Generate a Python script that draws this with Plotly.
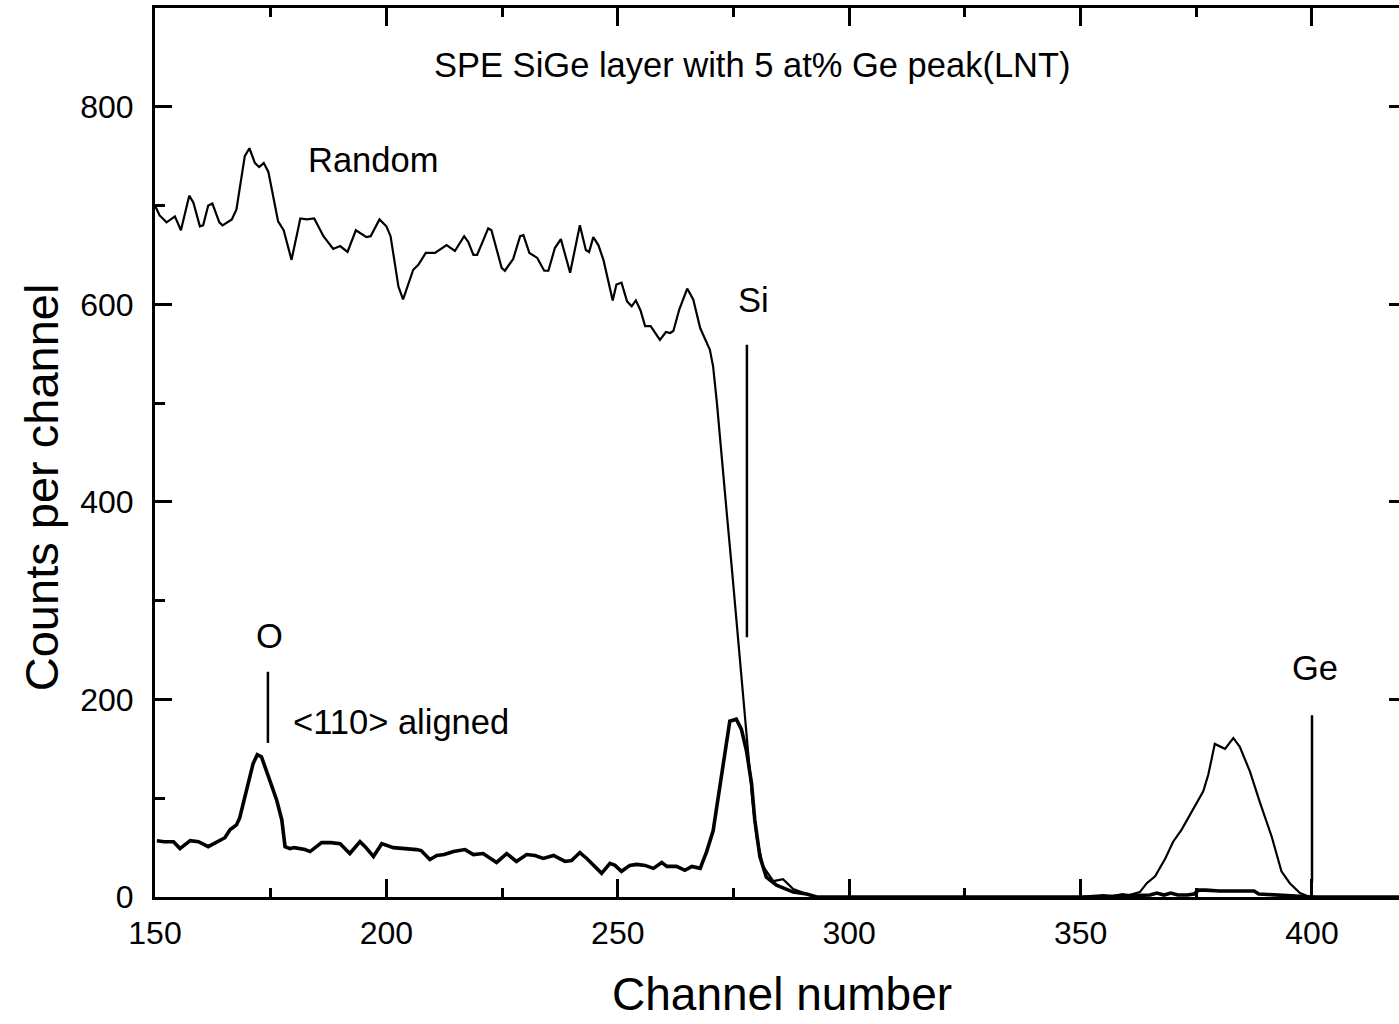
import plotly.graph_objects as go

# Random spectrum (channel, counts)
random_ch = [150.0, 151.0, 152.5, 154.3, 155.6, 157.4, 158.3, 159.7, 160.4, 161.5, 162.4, 163.9,
             164.6, 166.6, 167.6, 169.4, 170.4, 171.6, 172.5, 173.5, 174.5, 176.6, 177.8, 179.5,
             181.4, 182.8, 184.4, 186.4, 188.5, 190.0, 191.6, 193.4, 195.7, 196.6, 198.5, 200.0,
             200.9, 202.6, 203.6, 205.8, 206.9, 208.5, 210.5, 213.0, 214.8, 216.8, 217.7, 218.8,
             219.6, 220.8, 222.0, 222.7, 224.9, 225.6, 227.4, 228.9, 229.6, 230.9, 232.6, 234.1,
             235.0, 236.4, 237.7, 239.7, 241.8, 243.1, 243.8, 244.7, 245.8, 246.9, 248.9, 249.7,
             250.8, 252.0, 253.0, 253.9, 254.9, 255.9, 257.1, 259.1, 260.4, 261.3, 262.0, 263.3,
             265.0, 266.3, 267.8, 269.9, 270.6, 271.4, 272.4, 273.5, 274.6, 275.6, 276.7, 277.6,
             278.4, 279.1, 280.0, 281.4, 283.6, 285.7, 287.9, 290.8, 293.0, 320.0, 350.0,
             352.0, 355.0, 357.0, 359.0, 360.5, 362.8, 364.3, 366.1, 368.3, 370.0, 371.8, 374.3,
             376.5, 377.6, 379.0, 381.2, 383.0, 384.4, 386.6, 388.8, 391.3, 393.4, 395.2, 397.4,
             399.0, 401.0, 419.0]
random_counts = [700, 690, 683, 689, 675, 710, 703, 679, 680, 700, 702, 683,
                 680, 686, 696, 750, 758, 743, 739, 743, 734, 684, 675, 645,
                 687, 686, 687, 669, 656, 659, 653, 675, 668, 669, 686, 679,
                 669, 618, 605, 635, 640, 652, 652, 660, 654, 669, 663, 650,
                 650, 663, 677, 675, 637, 634, 646, 669, 670, 652, 647, 634,
                 634, 657, 666, 632, 680, 655, 653, 668, 660, 645, 604, 620,
                 622, 603, 598, 604, 594, 578, 578, 564, 572, 571, 573, 595,
                 616, 605, 576, 554, 537, 501, 446, 391, 335, 280, 225, 170,
                 134, 97, 60, 31, 16, 18, 8, 3, 0, 0, 0,
                 1, 2, 1, 3, 2, 5, 14, 21, 39, 56, 68, 88,
                 107, 124, 155, 150, 161, 152, 127, 95, 61, 26, 14, 4,
                 1, 0, 0]

# <110> aligned spectrum (channel, counts)
aligned_ch = [150.4, 152.0, 154.0, 155.4, 157.6, 159.4, 161.5, 163.3, 165.1, 166.2, 167.6, 168.3,
              169.8, 171.2, 172.1, 173.0, 174.8, 176.3, 177.4, 178.1, 179.2, 180.1, 182.4, 183.5,
              186.0, 188.0, 190.0, 192.1, 194.3, 195.4, 197.2, 199.0, 201.5, 204.4, 206.5, 207.5,
              209.4, 210.9, 212.5, 214.5, 217.0, 218.8, 220.9, 223.8, 226.0, 228.1, 230.3, 232.1,
              233.9, 236.1, 238.6, 240.0, 241.8, 243.3, 245.1, 246.5, 248.3, 249.4, 250.8, 252.6,
              254.1, 255.9, 257.7, 259.5, 260.6, 262.7, 264.5, 266.0, 267.8, 269.2, 270.6, 272.0,
              273.2, 274.2, 275.6, 276.7, 277.8, 278.9, 279.6, 280.7, 282.1, 284.3, 287.9, 290.8,
              293.0, 330.0, 355.0, 358.0, 362.0, 365.0, 366.5, 368.0, 369.5, 371.0, 373.0,
              374.5, 375.5, 377.0, 380.0, 384.0, 387.5, 388.5, 392.0, 396.0, 400.0, 419.0]
aligned_counts = [57, 56, 56, 49, 57, 56, 51, 56, 60, 68, 73, 80,
                  108, 135, 144, 142, 118, 98, 78, 51, 49, 50, 48, 46,
                  55, 55, 54, 44, 56, 51, 41, 54, 50, 49, 48, 47,
                  38, 42, 43, 46, 48, 43, 44, 35, 44, 36, 43, 42,
                  39, 42, 36, 37, 45, 39, 31, 24, 34, 32, 26, 32,
                  33, 32, 29, 35, 31, 31, 27, 31, 29, 46, 67, 111,
                  152, 178, 180, 170, 148, 115, 78, 41, 20, 12, 5, 3,
                  0, 0, 0, 1, 2, 2, 4, 2, 4, 2, 2,
                  3, 7, 7, 6, 6, 6, 3, 2, 1, 0, 0]

# Element surface-edge markers: (channel, y_bottom, y_top)
marker_names = ["O", "Si", "Ge"]
marker_ch = [174.4, 277.9, 400.0]
marker_lo = [156, 263, 15]
marker_hi = [228, 559, 184]

x_ticks = [150, 200, 250, 300, 350, 400]
y_ticks = [0, 200, 400, 600, 800]

FONT = "Liberation Sans, Arial, Helvetica, sans-serif"

fig = go.Figure()
fig.add_trace(go.Scatter(x=random_ch, y=random_counts, mode="lines",
                         line=dict(color="black", width=2.2), name="Random",
                         showlegend=False))
fig.add_trace(go.Scatter(x=aligned_ch, y=aligned_counts, mode="lines",
                         line=dict(color="black", width=3.6), name="<110> aligned",
                         showlegend=False))
# holder trace so the right-hand tick axis is drawn
fig.add_trace(go.Scatter(x=[150], y=[0], yaxis="y2", mode="lines",
                         line=dict(width=0), hoverinfo="skip", showlegend=False))

for ch, lo, hi in zip(marker_ch, marker_lo, marker_hi):
    fig.add_shape(type="line", xref="x", yref="y", x0=ch, x1=ch, y0=lo, y1=hi,
                  line=dict(color="black", width=2.5))

labels = [
    ("SPE SiGe layer with 5 at% Ge peak(LNT)", 279.0, 842, "center"),
    ("Random", 197.1, 746, "center"),
    ("Si", 279.4, 604, "center"),
    ("O", 174.8, 264, "center"),
    ("<110> aligned", 179.4, 177, "left"),
    ("Ge", 400.6, 232, "center"),
]
for text, x, y, anchor in labels:
    fig.add_annotation(x=x, y=y, xref="x", yref="y",
                       text=text.replace("<", "&lt;").replace(">", "&gt;"),
                       showarrow=False, xanchor=anchor, yanchor="middle",
                       font=dict(family=FONT, size=34.5, color="black"))

# axis titles
fig.add_annotation(x=0.504, y=-0.109, xref="paper", yref="paper", text="Channel number",
                   showarrow=False, xanchor="center", yanchor="middle",
                   font=dict(family=FONT, size=46, color="black"))
fig.add_annotation(x=-0.0916, y=0.461, xref="paper", yref="paper", text="Counts per channel",
                   textangle=-90, showarrow=False, xanchor="center", yanchor="middle",
                   font=dict(family=FONT, size=47, color="black"))

fig.update_layout(
    width=1399, height=1024,
    margin=dict(l=155, r=0, t=8, b=127),
    paper_bgcolor="white", plot_bgcolor="white",
    font=dict(family=FONT, color="black"),
    xaxis=dict(range=[150, 418.8], tickvals=x_ticks, ticks="inside", ticklen=18,
               tickwidth=3, tickcolor="black", showline=True, linewidth=3,
               linecolor="black", mirror="ticks", showgrid=False, zeroline=False,
               tickfont=dict(size=32), ticklabelstandoff=6,
               minor=dict(ticks="inside", ticklen=9, tickwidth=2.5, dtick=25,
                          tick0=150, tickcolor="black", showgrid=False)),
    yaxis=dict(range=[0, 900], tickvals=y_ticks, ticks="inside", ticklen=17,
               tickwidth=3, tickcolor="black", showline=True, linewidth=3,
               linecolor="black", showgrid=False, zeroline=False,
               tickfont=dict(size=32), ticklabelstandoff=12,
               minor=dict(ticks="inside", ticklen=10, tickwidth=2.5, dtick=100,
                          tick0=0, tickcolor="black", showgrid=False)),
    yaxis2=dict(range=[0, 900], overlaying="y", side="right", tickvals=[200, 400, 600, 800],
                ticks="inside", ticklen=10, tickwidth=3, tickcolor="black",
                showticklabels=False, showline=False, showgrid=False, zeroline=False),
)

fig.write_html("out.html")
